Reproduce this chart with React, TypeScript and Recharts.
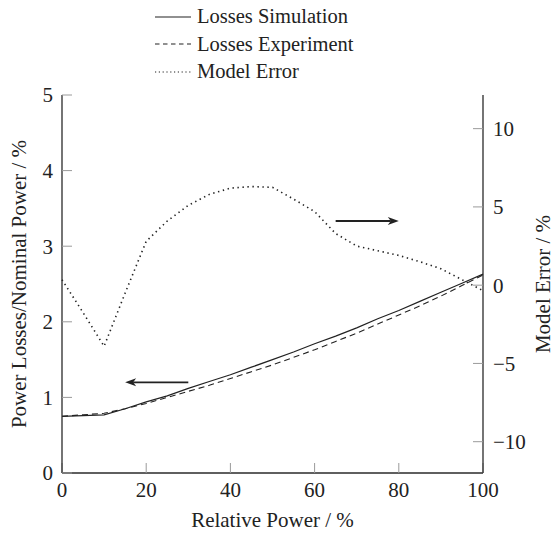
import React from "react";
import { LineChart, Line, XAxis, YAxis, ReferenceLine } from "recharts";

const relPower = [0, 5, 10, 15, 20, 25, 30, 35, 40, 45, 50, 55, 60, 65, 70, 75, 80, 85, 90, 95, 100];
const lossesSim = [0.75, 0.76, 0.77, 0.85, 0.94, 1.02, 1.12, 1.21, 1.3, 1.4, 1.5, 1.6, 1.71, 1.81, 1.92, 2.04, 2.15, 2.27, 2.39, 2.51, 2.63];
const lossesExp = [0.75, 0.77, 0.79, 0.85, 0.92, 1.0, 1.08, 1.16, 1.25, 1.34, 1.43, 1.53, 1.63, 1.74, 1.85, 1.97, 2.09, 2.21, 2.34, 2.48, 2.62];
const modelError = [0.35, -1.75, -3.9, -0.5, 2.8, 4.1, 5.1, 5.8, 6.2, 6.3, 6.25, 5.5, 4.7, 3.3, 2.5, 2.2, 1.9, 1.5, 1.05, 0.35, -0.35];

const xTicks = [0, 20, 40, 60, 80, 100];
const leftTicks = [0, 1, 2, 3, 4, 5];
const rightTicks = [-10, -5, 0, 5, 10];

const data = relPower.map((x, i) => ({
  x,
  sim: lossesSim[i],
  exp: lossesExp[i],
  err: modelError[i],
}));

const FONT = "'Liberation Serif', 'DejaVu Serif', serif";
const INK = "#222";
const AXIS = "#2a2a2a";
const TICK = "#9a9a9a";

const tickStyle = { fill: INK, fontSize: 21, fontFamily: FONT };
const titleStyle = { fill: INK, fontSize: 21, fontFamily: FONT };

function fmtSigned(v: number) {
  return v < 0 ? `\u2212${Math.abs(v)}` : String(v);
}

// arrow annotation drawn between the two segment ends
function Arrow(props: any) {
  const { x1, y1, x2, y2 } = props;
  const dx = x2 - x1;
  const dy = y2 - y1;
  const len = Math.sqrt(dx * dx + dy * dy) || 1;
  const ux = dx / len;
  const uy = dy / len;
  const hl = 11;
  const hw = 4;
  const bx = x2 - ux * hl;
  const by = y2 - uy * hl;
  const pts = `${x2},${y2} ${bx - uy * hw},${by + ux * hw} ${bx + ux * 3},${by + uy * 3} ${bx + uy * hw},${by - ux * hw}`;
  return (
    <g>
      <line x1={x1} y1={y1} x2={bx + ux * 3} y2={by + uy * 3} stroke={INK} strokeWidth={1.8} />
      <polygon points={pts} fill={INK} />
    </g>
  );
}

const legendItems = [
  { name: "Losses Simulation", dash: undefined },
  { name: "Losses Experiment", dash: "4.5 3.5" },
  { name: "Model Error", dash: "1.2 2.6" },
];

export default function App() {
  return (
    <div
      style={{
        position: "relative",
        width: 555,
        height: 534,
        background: "#fff",
        fontFamily: FONT,
      }}
    >
      <style>{`
        body { margin: 0; }
        svg text, svg tspan { font-family: 'Liberation Serif', 'DejaVu Serif', serif !important; }
      `}</style>
      <div style={{ position: "absolute", left: 154, top: 3 }}>
        {legendItems.map((it) => (
          <div
            key={it.name}
            style={{
              display: "flex",
              alignItems: "center",
              height: 27.5,
              fontSize: 20.5,
              color: INK,
            }}
          >
            <svg width={38} height={10} style={{ marginRight: 5 }}>
              <line
                x1={1}
                y1={5}
                x2={37}
                y2={5}
                stroke={INK}
                strokeWidth={1.2}
                strokeDasharray={it.dash}
              />
            </svg>
            <span>{it.name}</span>
          </div>
        ))}
      </div>
      <LineChart
        width={555}
        height={534}
        data={data}
        margin={{ top: 95, right: 0, bottom: 0, left: 0 }}
        style={{ position: "absolute", left: 0, top: 0 }}
      >
        <XAxis
          xAxisId="bottom"
          dataKey="x"
          type="number"
          domain={[0, 100]}
          ticks={xTicks}
          height={61}
          axisLine={{ stroke: AXIS, strokeWidth: 1.3 }}
          tickLine={{ stroke: TICK }}
          tickSize={-10}
          tickMargin={19}
          tick={tickStyle}
          interval={0}
          label={{ value: "Relative Power / %", position: "center", dy: 16, ...titleStyle }}
        />
        <XAxis
          xAxisId="top"
          orientation="top"
          dataKey="x"
          type="number"
          domain={[0, 100]}
          ticks={xTicks}
          height={0}
          axisLine={{ stroke: AXIS, strokeWidth: 1.3 }}
          tickLine={{ stroke: TICK }}
          tickSize={-10}
          tickFormatter={() => ""}
          interval={0}
        />
        <YAxis
          yAxisId="left"
          type="number"
          domain={[0, 5]}
          ticks={leftTicks}
          width={62}
          axisLine={{ stroke: AXIS, strokeWidth: 1.3 }}
          tickLine={{ stroke: TICK }}
          tickSize={-10}
          tickMargin={19}
          tick={tickStyle}
          interval={0}
          label={{
            value: "Power Losses/Nominal Power / %",
            angle: -90,
            position: "center",
            dx: -12,
            ...titleStyle,
          }}
        />
        <YAxis
          yAxisId="right"
          orientation="right"
          type="number"
          domain={[-12, 12.15]}
          ticks={rightTicks}
          width={72}
          axisLine={{ stroke: AXIS, strokeWidth: 1.3 }}
          tickLine={{ stroke: TICK }}
          tickSize={-10}
          tickMargin={20}
          tick={tickStyle}
          tickFormatter={fmtSigned}
          interval={0}
          label={{
            value: "Model Error / %",
            angle: -90,
            position: "center",
            dx: 24,
            ...titleStyle,
          }}
        />
        <Line
          xAxisId="bottom"
          yAxisId="left"
          dataKey="sim"
          type="linear"
          stroke={INK}
          strokeWidth={1.2}
          dot={false}
          isAnimationActive={false}
        />
        <Line
          xAxisId="bottom"
          yAxisId="left"
          dataKey="exp"
          type="linear"
          stroke={INK}
          strokeWidth={1.1}
          strokeDasharray="6 4"
          dot={false}
          isAnimationActive={false}
        />
        <Line
          xAxisId="bottom"
          yAxisId="right"
          dataKey="err"
          type="linear"
          stroke={INK}
          strokeWidth={1.6}
          strokeDasharray="1.4 3.6"
          dot={false}
          isAnimationActive={false}
        />
        <ReferenceLine
          xAxisId="bottom"
          yAxisId="left"
          segment={[
            { x: 30, y: 1.2 },
            { x: 15, y: 1.2 },
          ]}
          shape={Arrow}
        />
        <ReferenceLine
          xAxisId="bottom"
          yAxisId="right"
          segment={[
            { x: 65, y: 4.1 },
            { x: 80, y: 4.1 },
          ]}
          shape={Arrow}
        />
      </LineChart>
    </div>
  );
}
